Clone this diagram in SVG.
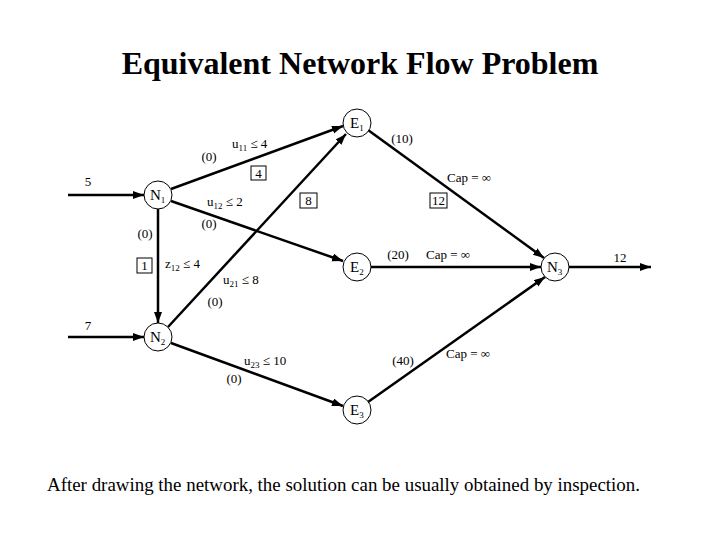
<svg xmlns="http://www.w3.org/2000/svg" width="720" height="540" viewBox="0 0 720 540">
<style>
text{font-family:"Liberation Serif","Times New Roman",serif;fill:#000}
.t{font-size:32px;font-weight:bold}
.f{font-size:19px}
.l{font-size:13px}
.n{font-size:15px}
.s{font-size:9px}
.e{stroke:#000;stroke-width:2.5;fill:none;marker-end:url(#ah)}
.c{fill:#fff;stroke:#000;stroke-width:1}
.b{fill:none;stroke:#000;stroke-width:1}
</style>
<defs>
<marker id="ah" markerUnits="userSpaceOnUse" markerWidth="12" markerHeight="10" refX="11" refY="4" orient="auto">
<path d="M0,0 L11,4 L0,8 z" fill="#000"/>
</marker>
</defs>
<rect width="720" height="540" fill="#fff"/>
<text class="t" x="360" y="74" text-anchor="middle">Equivalent Network Flow Problem</text>
<g id="connectors">
<line class="e" x1="68" y1="195" x2="144" y2="195"/>
<line class="e" x1="68" y1="337" x2="144" y2="337"/>
<line class="e" x1="171" y1="189" x2="343" y2="126"/>
<line class="e" x1="171" y1="201" x2="343" y2="261"/>
<line class="e" x1="158" y1="209" x2="158" y2="323"/>
<line class="e" x1="168" y1="327" x2="346" y2="134"/>
<line class="e" x1="171" y1="343" x2="343" y2="406"/>
<line class="e" x1="368" y1="130" x2="544" y2="258"/>
<line class="e" x1="370" y1="267" x2="541" y2="267"/>
<line class="e" x1="368" y1="402" x2="545" y2="277"/>
<line class="e" x1="569" y1="267" x2="651" y2="267"/>
</g>
<g id="labels">
<text class="l" x="88" y="186" text-anchor="middle">5</text>
<text class="l" x="88" y="330" text-anchor="middle">7</text>
<text class="l" x="209" y="161" text-anchor="middle">(0)</text>
<text class="l" x="232" y="148">u<tspan class="s" dy="3">11</tspan><tspan dy="-3"> ≤ 4</tspan></text>
<rect class="b" x="251" y="166" width="15" height="14"/>
<text class="l" x="258.5" y="178" text-anchor="middle">4</text>
<text class="l" x="207" y="206">u<tspan class="s" dy="3">12</tspan><tspan dy="-3"> ≤ 2</tspan></text>
<text class="l" x="209" y="228" text-anchor="middle">(0)</text>
<text class="l" x="145" y="238" text-anchor="middle">(0)</text>
<rect class="b" x="137" y="258" width="15" height="15"/>
<text class="l" x="144.5" y="270" text-anchor="middle">1</text>
<text class="l" x="165" y="268">z<tspan class="s" dy="3">12</tspan><tspan dy="-3"> ≤ 4</tspan></text>
<text class="l" x="223" y="284">u<tspan class="s" dy="3">21</tspan><tspan dy="-3"> ≤ 8</tspan></text>
<text class="l" x="215" y="306" text-anchor="middle">(0)</text>
<rect class="b" x="300" y="193" width="17" height="15"/>
<text class="l" x="308.5" y="205" text-anchor="middle">8</text>
<text class="l" x="244" y="365">u<tspan class="s" dy="3">23</tspan><tspan dy="-3"> ≤ 10</tspan></text>
<text class="l" x="234" y="383" text-anchor="middle">(0)</text>
<text class="l" x="402" y="143" text-anchor="middle">(10)</text>
<text class="l" x="447" y="182">Cap = ∞</text>
<rect class="b" x="430" y="193" width="17" height="15"/>
<text class="l" x="438.5" y="205" text-anchor="middle">12</text>
<text class="l" x="398" y="259" text-anchor="middle">(20)</text>
<text class="l" x="426" y="259">Cap = ∞</text>
<text class="l" x="403" y="365" text-anchor="middle">(40)</text>
<text class="l" x="446" y="358">Cap = ∞</text>
<text class="l" x="620" y="262" text-anchor="middle">12</text>
</g>
<g id="N1"><circle class="c" cx="158" cy="195" r="14"/><text class="n" x="150" y="200">N<tspan class="s" dy="3">1</tspan></text></g>
<g id="N2"><circle class="c" cx="158" cy="337" r="14"/><text class="n" x="150" y="342">N<tspan class="s" dy="3">2</tspan></text></g>
<g id="N3"><circle class="c" cx="555" cy="267" r="14"/><text class="n" x="547" y="272">N<tspan class="s" dy="3">3</tspan></text></g>
<g id="E1"><circle class="c" cx="357" cy="123" r="14"/><text class="n" x="350" y="128">E<tspan class="s" dy="3">1</tspan></text></g>
<g id="E2"><circle class="c" cx="357" cy="267" r="14"/><text class="n" x="350" y="272">E<tspan class="s" dy="3">2</tspan></text></g>
<g id="E3"><circle class="c" cx="357" cy="410" r="14"/><text class="n" x="350" y="415">E<tspan class="s" dy="3">3</tspan></text></g>
<text class="f" x="47" y="491" textLength="593" lengthAdjust="spacingAndGlyphs">After drawing the network, the solution can be usually obtained by inspection.</text>
</svg>
